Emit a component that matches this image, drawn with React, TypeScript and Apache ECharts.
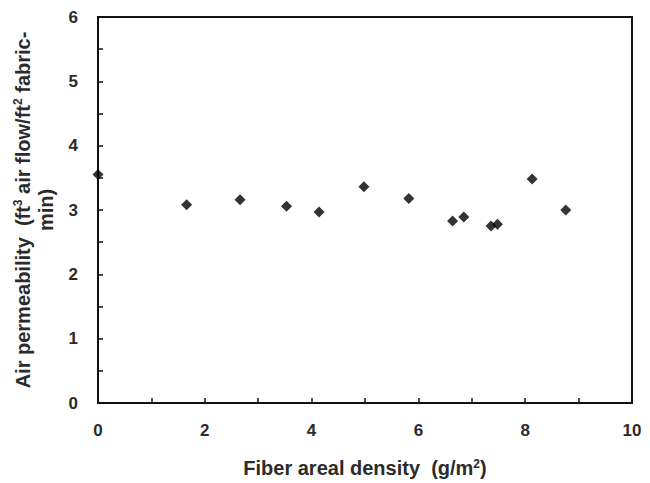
import React, { useEffect, useRef } from "react";
import * as echarts from "echarts";

const fiberDensity = [0, 1.66, 2.66, 3.53, 4.14, 4.98, 5.82, 6.64, 6.85, 7.36, 7.48, 8.13, 8.76];
const airPermeability = [3.55, 3.08, 3.16, 3.06, 2.97, 3.36, 3.18, 2.83, 2.89, 2.75, 2.78, 3.48, 3.0];
const xTickLabels = ["0", "2", "4", "6", "8", "10"];
const yTickLabels = ["0", "1", "2", "3", "4", "5", "6"];

const FONT = "'Liberation Sans', Arial, sans-serif";
const TXT = "#2b2b2b";

export default function App() {
  const ref = useRef<HTMLDivElement>(null);
  useEffect(() => {
    if (!ref.current) return;
    const chart = echarts.init(ref.current, undefined, { renderer: "svg" });
    const data = fiberDensity.map((x, i) => [x, airPermeability[i]]);
    const supStyle = {
      fontSize: 12,
      fontWeight: "bold",
      fontFamily: FONT,
      color: TXT,
      verticalAlign: "top",
      padding: [0, 0, 8, 0],
    };
    chart.setOption({
      animation: false,
      backgroundColor: "#ffffff",
      grid: {
        left: 98,
        right: 18,
        top: 17,
        bottom: 78,
        show: true,
        borderColor: "#111",
        borderWidth: 2,
        backgroundColor: "transparent",
      },
      xAxis: {
        type: "value",
        min: 0,
        max: 10,
        interval: 1,
        name: "Fiber areal density  (g/m{sup|2})",
        nameLocation: "middle",
        nameGap: 55,
        nameTextStyle: {
          fontFamily: FONT,
          fontWeight: "bold",
          fontSize: 20,
          color: TXT,
          rich: { sup: supStyle },
        },
        axisLine: { show: true, lineStyle: { color: "#111", width: 2 } },
        axisTick: { show: true, inside: true, length: 5, lineStyle: { color: "#111", width: 1.5 } },
        splitLine: { show: false },
        axisLabel: {
          margin: 19,
          fontFamily: FONT,
          fontWeight: "bold",
          fontSize: 17,
          color: TXT,
          formatter: (v: number) => {
            const s = String(Math.round(v));
            return xTickLabels.includes(s) ? s : "";
          },
        },
      },
      yAxis: {
        type: "value",
        min: 0,
        max: 6,
        interval: 0.5,
        name: "Air permeability  (ft{sup|3} air flow/ft{sup|2} fabric-\nmin)",
        nameLocation: "middle",
        nameGap: 37,
        nameTextStyle: {
          fontFamily: FONT,
          fontWeight: "bold",
          fontSize: 20,
          color: TXT,
          lineHeight: 23,
          rich: { sup: supStyle },
        },
        axisLine: { show: true, lineStyle: { color: "#111", width: 2 } },
        axisTick: { show: true, inside: true, length: 5, lineStyle: { color: "#111", width: 1.5 } },
        splitLine: { show: false },
        axisLabel: {
          margin: 20,
          fontFamily: FONT,
          fontWeight: "bold",
          fontSize: 17,
          color: TXT,
          formatter: (v: number) => {
            const s = String(v);
            return yTickLabels.includes(s) ? s : "";
          },
        },
      },
      series: [
        {
          type: "scatter",
          data,
          symbol: "diamond",
          symbolSize: 11,
          clip: false,
          itemStyle: { color: "#000" },
        },
      ],
    });
    return () => chart.dispose();
  }, []);
  return (
    <div
      ref={ref}
      style={{ position: "fixed", left: 0, top: 0, width: 650, height: 483, background: "#fff" }}
    />
  );
}
